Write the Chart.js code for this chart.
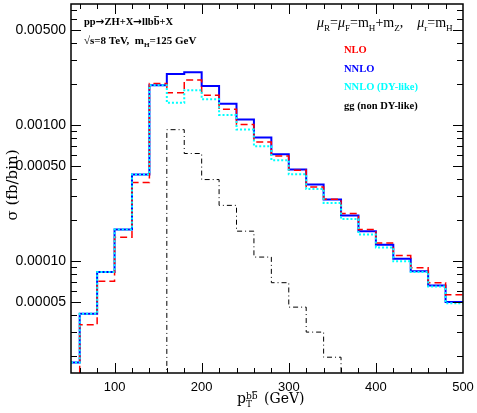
<!DOCTYPE html>
<html><head><meta charset="utf-8">
<script src="https://cdn.jsdelivr.net/npm/chart.js@4"></script>
<style>html,body{margin:0;padding:0;background:#fff}#wrap{width:477px;height:413px;position:relative}</style>
</head><body><div id="wrap"><canvas id="c" width="477" height="413"></canvas></div>
<script>
// bin edges (GeV)
const binEdges = [50,60,80,100,120,140,160,180,200,220,240,260,280,300,320,340,360,380,400,420,440,460,480,500];
// sigma (fb/bin) per bin
const nlo    = [1.45e-5,3.40e-5,7.09e-5,1.50e-4,3.78e-4,2.03e-3,1.73e-3,2.15e-3,1.66e-3,1.31e-3,1.01e-3,7.53e-4,5.94e-4,4.66e-4,3.51e-4,2.85e-4,2.24e-4,1.71e-4,1.36e-4,1.10e-4,8.94e-5,6.93e-5,5.65e-5];
const nnlo   = [1.79e-5,4.10e-5,8.30e-5,1.71e-4,4.33e-4,1.97e-3,2.38e-3,2.45e-3,1.94e-3,1.44e-3,1.10e-3,8.12e-4,6.11e-4,4.72e-4,3.66e-4,2.84e-4,2.16e-4,1.66e-4,1.32e-4,1.04e-4,8.40e-5,6.62e-5,4.99e-5];
const nnloDY = [1.79e-5,4.10e-5,8.30e-5,1.71e-4,4.33e-4,1.97e-3,1.46e-3,1.81e-3,1.55e-3,1.19e-3,9.30e-4,7.00e-4,5.52e-4,4.35e-4,3.39e-4,2.68e-4,2.04e-4,1.57e-4,1.26e-4,9.95e-5,8.32e-5,6.51e-5,4.90e-5];
const ggEdges = [140,160,180,200,220,240,260,280,300,320,340,360,380];
const gg     = [1e-8,9.27e-4,6.19e-4,3.98e-4,2.57e-4,1.66e-4,1.07e-4,6.93e-5,4.58e-5,3.00e-5,1.96e-5,1e-8];
const yTickLabels = [0.00005,0.0001,0.0005,0.001,0.005];
const xTickLabels = [100,200,300,400,500];
const yMin = 1.5e-5, yMax = 0.0078, xMin = 50, xMax = 500;

function steps(edges, vals){
  const pts = vals.map((v,i)=>({x:edges[i], y:v}));
  pts.push({x:edges[edges.length-1], y:vals[vals.length-1]});
  return pts;
}

// parts: [text, kind('n'|'sub'|'sup'), style, bar, fontOverride]
function richText(ctx, x, y, parts, size, font, color, weight){
  ctx.save();
  ctx.fillStyle = color; ctx.strokeStyle = color;
  ctx.textBaseline = 'alphabetic'; ctx.textAlign = 'left';
  let cx = x;
  for (const p of parts){
    const [t, kind, style, bar, fo] = p;
    let s = size, dy = 0;
    if (kind === 'sub'){ s = size*0.65; dy = size*0.28; }
    if (kind === 'sup'){ s = size*0.65; dy = -size*0.5; }
    ctx.font = `${style||''} ${weight||''} ${s}px ${fo||font}`;
    ctx.fillText(t, cx, y+dy);
    const w = ctx.measureText(t).width;
    if (bar === 'bar'){
      ctx.lineWidth = 0.9;
      const ly = y + dy - s*0.8;
      ctx.beginPath(); ctx.moveTo(cx+0.5, ly); ctx.lineTo(cx+w-0.5, ly); ctx.stroke();
    }
    cx += w;
  }
  ctx.restore();
  return cx;
}

const decor = {
  id:'decor',
  afterDatasetsDraw(chart){
    const {ctx, chartArea:a, scales:{x, y}} = chart;
    ctx.save();
    ctx.strokeStyle = '#000'; ctx.lineWidth = 1;
    for (let e=-5; e<=-2; e++){
      for (let m=1; m<=9; m++){
        const v = m*Math.pow(10,e);
        if (v < yMin || v > yMax) continue;
        const major = yTickLabels.some(t=>Math.abs(t-v)/v<1e-6);
        const L = major ? 10 : 6;
        const py = Math.round(y.getPixelForValue(v))+0.5;
        ctx.beginPath();
        ctx.moveTo(a.left, py); ctx.lineTo(a.left+L, py);
        ctx.moveTo(a.right, py); ctx.lineTo(a.right-L, py);
        ctx.stroke();
      }
    }
    for (let v=60; v<500; v+=20){
      const major = v%100===0;
      const L = major ? 10 : 5;
      const px = Math.round(x.getPixelForValue(v))+0.5;
      ctx.beginPath();
      ctx.moveTo(px, a.bottom); ctx.lineTo(px, a.bottom-L);
      ctx.moveTo(px, a.top); ctx.lineTo(px, a.top+L);
      ctx.stroke();
    }
    ctx.lineWidth = 1.5;
    ctx.strokeRect(a.left, a.top, a.right-a.left, a.bottom-a.top);
    ctx.restore();

    const serif = '"Liberation Serif", "DejaVu Serif", serif';
    const arrowF = '"DejaVu Sans", sans-serif';
    richText(ctx, 84, 25, [['pp','n'],['→','n','','',arrowF],['ZH+X','n'],['→','n','','',arrowF],['llb','n'],['b','n','','bar'],['+X','n']], 10.5, serif, '#000', 'bold');
    richText(ctx, 84, 44, [['√s=8 TeV,  m','n'],['H','sub'],['=125 GeV','n']], 11, serif, '#000', 'bold');
    richText(ctx, 317, 27, [['μ','n','italic'],['R','sub'],['=','n'],['μ','n','italic'],['F','sub'],['=m','n'],['H','sub'],['+m','n'],['Z','sub'],[',    ','n'],['μ','n','italic'],['r','sub'],['=m','n'],['H','sub']], 14, serif, '#000', '');
    richText(ctx, 344, 53, [['NLO','n']], 10.5, serif, '#ff0000', 'bold');
    richText(ctx, 344, 72, [['NNLO','n']], 10.5, serif, '#0000ff', 'bold');
    richText(ctx, 344, 90, [['NNLO (DY-like)','n']], 10.5, serif, '#00ffff', 'bold');
    richText(ctx, 344, 109, [['gg (non DY-like)','n']], 10.5, serif, '#000', 'bold');

    const dserif = '"DejaVu Serif", serif';
    richText(ctx, 237, 403, [['p','n'],['T','sub']], 14, dserif, '#000', '');
    ctx.save();
    ctx.font = `${14}px ${dserif}`;
    const wp = ctx.measureText('p').width;
    ctx.font = `${14*0.65}px ${dserif}`;
    const wbb = ctx.measureText('bb').width;
    ctx.restore();
    richText(ctx, 237+wp, 395, [['b','sub'],['b','sub','','bar']], 14, dserif, '#000', '');
    richText(ctx, 237+wp+wbb+2, 403, [[' (GeV)','n']], 14, dserif, '#000', '');

    ctx.save();
    ctx.translate(17, 185);
    ctx.rotate(-Math.PI/2);
    ctx.font = `15px ${dserif}`;
    ctx.fillStyle = '#000'; ctx.textAlign='center'; ctx.textBaseline='alphabetic';
    ctx.fillText('σ (fb/bin)', 0, 0);
    ctx.restore();
  }
};

const mk = (label, pts, color, width, dash, order) => ({
  label, data: pts, borderColor: color, borderWidth: width, borderDash: dash,
  stepped: 'before', pointRadius: 0, fill: false, order, tension: 0
});

new Chart(document.getElementById('c'), {
  type: 'line',
  data: { datasets: [
    mk('NNLO (DY-like)', steps(binEdges, nnloDY), '#00ffff', 2, [2,2], 0),
    mk('NLO', steps(binEdges, nlo), '#ff0000', 1.5, [7,4], 1),
    mk('NNLO', steps(binEdges, nnlo), '#0000ff', 2, [], 2),
    mk('gg (non DY-like)', steps(ggEdges, gg), '#000000', 1, [5,3,1,3], 3)
  ]},
  options: {
    responsive: false, animation: false,
    layout: { padding: { left: 0, top: 4, right: 14, bottom: 0 } },
    plugins: { legend: { display: false }, tooltip: { enabled: false } },
    scales: {
      x: {
        type: 'linear', min: xMin, max: xMax,
        grid: { display: false, drawTicks: false },
        border: { display: false },
        afterFit(s){ s.height = 40; s.paddingLeft = 0; s.paddingRight = 0; s.paddingTop = 0; s.paddingBottom = 0; },
        afterBuildTicks(s){ s.ticks = xTickLabels.map(v=>({value:v})); },
        ticks: { padding: 7, color: '#000', font: { family: '"Liberation Sans", sans-serif', size: 13 }, maxRotation: 0, callback: v => String(v) }
      },
      y: {
        type: 'logarithmic', min: yMin, max: yMax,
        grid: { display: false, drawTicks: false },
        border: { display: false },
        afterFit(s){ s.width = 71; s.paddingLeft = 0; s.paddingRight = 0; s.paddingTop = 0; s.paddingBottom = 0; },
        afterBuildTicks(s){ s.ticks = yTickLabels.map(v=>({value:v})); },
        ticks: { padding: 5, color: '#000', font: { family: '"Liberation Sans", sans-serif', size: 14 }, callback: v => v.toFixed(5) }
      }
    }
  },
  plugins: [decor]
});
</script></body></html>
